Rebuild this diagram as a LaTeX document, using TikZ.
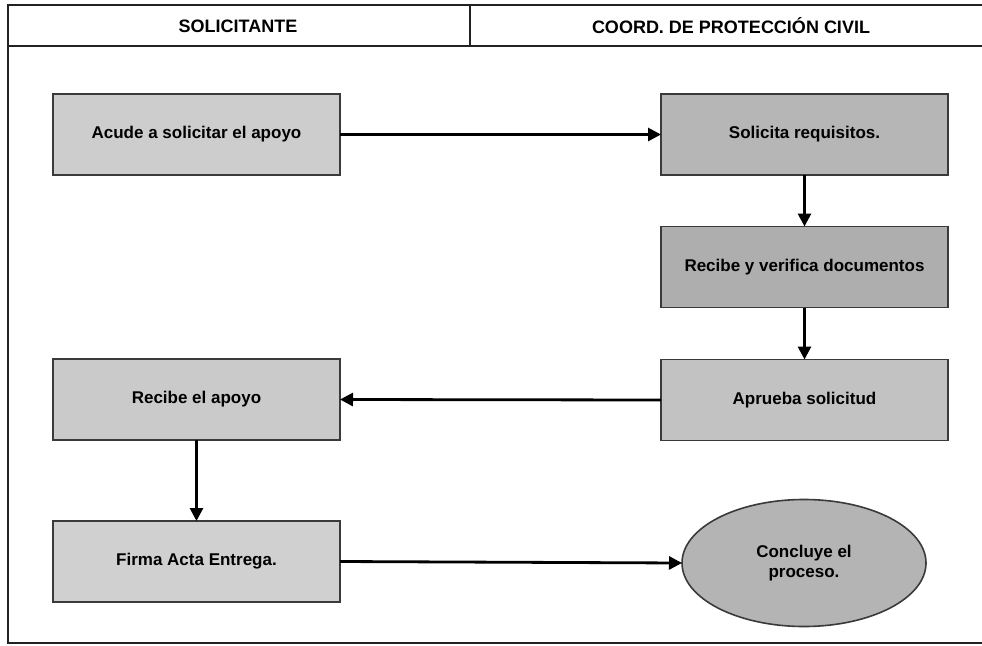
\documentclass[tikz,border=0pt]{standalone}
\usepackage{fontspec}
\setmainfont{Liberation Sans}
\usetikzlibrary{shapes.geometric,arrows.meta}
\definecolor{frameline}{HTML}{222222}
\definecolor{boxedge}{HTML}{3A3A3A}
\definecolor{fillA}{HTML}{CDCDCD}
\definecolor{fillB}{HTML}{B6B6B6}
\definecolor{fillC}{HTML}{AEAEAE}
\definecolor{fillD}{HTML}{C2C2C2}
\definecolor{fillE}{HTML}{CACACA}
\definecolor{fillF}{HTML}{D0D0D0}
\definecolor{fillG}{HTML}{B4B4B4}
\tikzset{
  frame/.style={draw=frameline, line width=2pt},
  hdr/.style={font=\fontsize{18}{20}\selectfont\bfseries, text=black},
  stepbox/.style={draw=boxedge, line width=1.6pt, minimum width=287pt, minimum height=81pt,
    inner sep=0pt, outer sep=0pt, font=\fontsize{17}{20}\selectfont\bfseries, text=black},
  endnode/.style={ellipse, draw=boxedge, line width=1.6pt, minimum width=244pt, minimum height=127pt,
    inner sep=0pt, outer sep=0pt, align=center, font=\fontsize{17}{20}\selectfont\bfseries, text=black},
  flow/.style={draw=black, line width=2.8pt, -{Triangle[length=13pt,width=13pt]}}
}
\begin{document}
\begin{tikzpicture}[x=1pt,y=-1pt]
\useasboundingbox (0,0) rectangle (982,645);
% frame
\coordinate (tl) at (8,5);
\coordinate (tr) at (982,5);
\coordinate (hl) at (8,46);
\coordinate (hr) at (982,46);
\coordinate (bl) at (8,643);
\coordinate (br) at (982,643);
\coordinate (dt) at (470,5);
\coordinate (db) at (470,46);
\draw[frame] (tr) -- (tl) -- (bl) -- (br);
\draw[frame] (hl) -- (hr);
\draw[frame] (dt) -- (db);
\node[hdr] (h1) at (238,26) {SOLICITANTE};
\node[hdr] (h2) at (731,26) {COORD. DE PROTECCIÓN CIVIL};
% steps
\node[stepbox, fill=fillA] (acude) at (196.5,134.5) {Acude a solicitar el apoyo};
\node[stepbox, fill=fillB] (solicita) at (804.5,134.5) {Solicita requisitos.};
\node[stepbox, fill=fillC] (verifica) at (804.5,267) {Recibe y verifica documentos};
\node[stepbox, fill=fillD] (aprueba) at (804.5,400) {Aprueba solicitud};
\node[stepbox, fill=fillE] (recibe) at (196.5,399.5) {Recibe el apoyo};
\node[stepbox, fill=fillF] (firma) at (196.5,561.5) {Firma Acta Entrega.};
\node[endnode, fill=fillG] (fin) at (804,563) {Concluye el\\proceso.};
% connectors
\draw[flow] (acude.east) -- (solicita.west);
\draw[flow] (solicita.south) -- (verifica.north);
\draw[flow] (verifica.south) -- (aprueba.north);
\draw[flow] (aprueba.west) -- (recibe.east);
\draw[flow] (recibe.south) -- (firma.north);
\draw[flow] (firma.east) -- (fin.west);
\end{tikzpicture}
\end{document}
